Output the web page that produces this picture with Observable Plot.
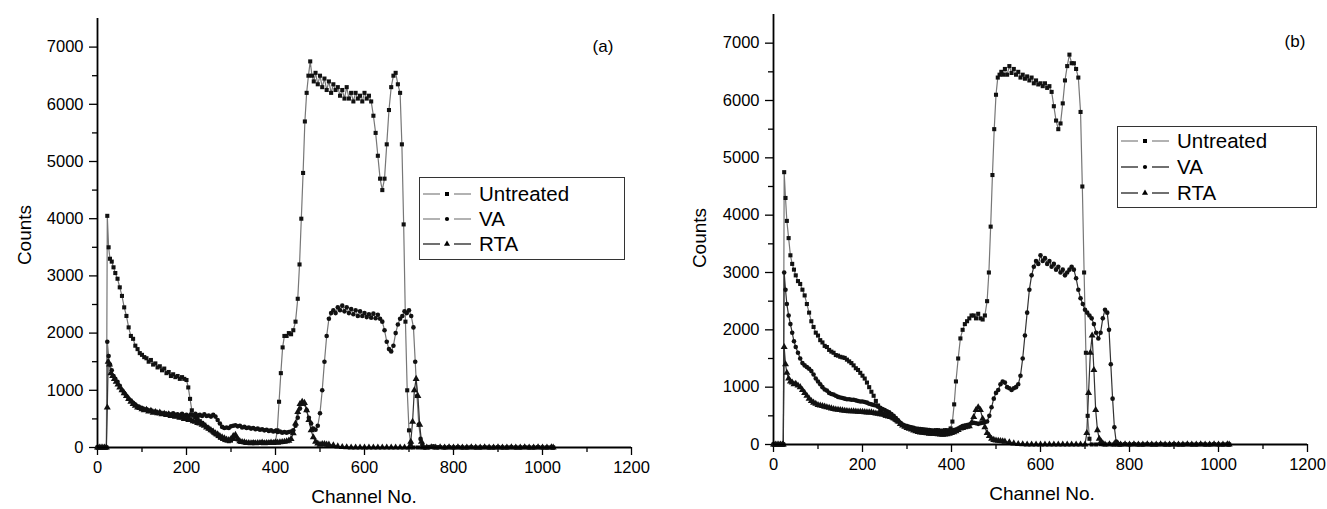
<!DOCTYPE html>
<html>
<head>
<meta charset="utf-8">
<script src="https://cdn.jsdelivr.net/npm/d3@7"></script>
<script src="https://cdn.jsdelivr.net/npm/@observablehq/plot@0.6"></script>
<style>
  html, body { margin: 0; padding: 0; background: #fff; }
  #wrap { position: relative; width: 1327px; height: 509px; overflow: hidden; font-family: "Liberation Sans", Arial, sans-serif; color: #000; }
  .panel { position: absolute; top: 0; }
  .lab { position: absolute; font-size: 19px; white-space: nowrap; }
  .ylab { transform: translate(-50%, -50%) rotate(-90deg); }
  .xlab { transform: translate(-50%, -50%); }
  .tag { position: absolute; font-size: 17px; transform: translate(-50%, -50%); }
  .legend { position: absolute; border: 1.3px solid #333; background: #fff; box-sizing: border-box; }
  .legend .row { position: absolute; left: 0; height: 24px; display: flex; align-items: center; font-size: 20.5px; }
  .legend svg { display: block; }
</style>
</head>
<body>
<div id="wrap"></div>
<script>
// ---------------- data (channel, counts) ----------------
const xTicks = [0, 200, 400, 600, 800, 1000, 1200];
const xMinor = [100, 300, 500, 700, 900, 1100];
const yTicks = [0, 1000, 2000, 3000, 4000, 5000, 6000, 7000];
const yMinor = [500, 1500, 2500, 3500, 4500, 5500, 6500];
const seriesNames = ["Untreated", "VA", "RTA"];

const tail = [[780,0],[790,5],[800,0],[810,5],[820,0],[830,0],[840,5],[850,0],[860,0],[870,5],[880,0],[890,0],[900,5],[910,0],[920,0],[930,5],[940,0],[950,0],[960,5],[970,0],[980,0],[990,5],[1000,0],[1010,0],[1020,5],[1024,0]];
const head = [[0,0],[4,0],[8,0],[12,0],[16,0],[20,0]];

const untreatedA = [[22,4050],[25,3500],[28,3300],[32,3250],[36,3150],[40,3050],[45,2950],[50,2800],[55,2650],[60,2450],[65,2300],[70,2100],[75,1950],[80,1900],[85,1780],[90,1720],[95,1650],[100,1620],[105,1580],[110,1560],[115,1500],[120,1530],[125,1450],[130,1470],[135,1400],[140,1420],[145,1350],[150,1380],[155,1300],[160,1320],[165,1250],[170,1280],[175,1230],[180,1250],[185,1200],[190,1230],[195,1200],[200,1180],[204,1050],[208,850],[212,650],[216,560],[220,530],[225,500],[230,460],[235,430],[240,400],[245,360],[250,330],[255,300],[260,260],[265,230],[270,200],[275,170],[280,150],[285,130],[290,120],[295,110],[300,120],[305,150],[310,190],[315,140],[320,100],[330,90],[340,80],[350,90],[360,80],[370,90],[380,85],[390,90],[400,100],[404,300],[408,800],[412,1300],[416,1750],[420,1950],[425,1950],[430,2000],[435,1980],[440,2050],[445,2200],[450,2600],[454,3200],[458,4000],[462,4800],[466,5700],[470,6200],[474,6500],[478,6750],[482,6500],[486,6400],[490,6550],[495,6350],[500,6500],[505,6300],[510,6450],[515,6250],[520,6400],[525,6200],[530,6350],[535,6250],[540,6300],[545,6150],[550,6250],[555,6100],[560,6300],[565,6100],[570,6200],[575,6050],[580,6200],[585,6100],[590,6150],[595,6050],[600,6200],[605,6100],[610,6150],[615,6050],[620,5800],[625,5500],[630,5100],[635,4700],[640,4500],[645,4700],[650,5300],[655,5900],[660,6300],[665,6500],[670,6550],[675,6350],[680,6200],[684,5300],[688,3900],[692,2200],[696,1000],[700,300],[704,50],[710,0],[720,0],[730,5],[740,0],[750,10],[760,0],[770,5]];
const vaA = [[22,1850],[25,1600],[28,1450],[32,1350],[36,1250],[40,1200],[45,1150],[50,1080],[55,1000],[60,950],[65,900],[70,850],[75,820],[80,780],[85,750],[90,720],[95,700],[100,690],[105,660],[110,670],[115,640],[120,650],[125,620],[130,630],[135,600],[140,610],[145,590],[150,600],[155,580],[160,590],[165,570],[170,600],[175,570],[180,580],[185,560],[190,590],[195,560],[200,570],[205,550],[210,580],[215,560],[220,590],[225,560],[230,570],[235,550],[240,580],[245,550],[250,560],[255,540],[260,570],[265,540],[270,480],[275,420],[280,360],[285,340],[290,350],[295,340],[300,370],[305,380],[310,390],[315,370],[320,380],[325,350],[330,360],[335,340],[340,350],[345,330],[350,340],[355,320],[360,330],[365,310],[370,320],[375,300],[380,310],[385,290],[390,300],[395,280],[400,290],[405,270],[410,280],[415,260],[420,270],[425,260],[430,270],[435,280],[440,300],[445,380],[450,520],[455,680],[460,780],[465,760],[470,650],[475,520],[480,420],[485,330],[490,310],[495,380],[500,600],[505,1000],[510,1500],[515,1950],[520,2250],[525,2350],[530,2400],[535,2350],[540,2450],[545,2400],[550,2480],[555,2380],[560,2450],[565,2350],[570,2420],[575,2330],[580,2400],[585,2300],[590,2380],[595,2300],[600,2350],[605,2280],[610,2330],[615,2270],[620,2340],[625,2260],[630,2320],[635,2250],[640,2200],[645,2050],[650,1850],[655,1720],[660,1680],[665,1780],[670,2000],[675,2150],[680,2250],[685,2300],[690,2380],[695,2350],[700,2400],[705,2300],[710,2100],[714,1500],[718,900],[722,400],[726,150],[730,50],[735,0],[745,10],[755,20],[765,5]];
const rtaA = [[22,700],[24,1500],[27,1450],[30,1300],[34,1250],[38,1200],[42,1150],[46,1100],[50,1050],[55,1000],[60,950],[65,900],[70,850],[75,800],[80,760],[85,730],[90,700],[95,690],[100,670],[105,650],[110,660],[115,630],[120,640],[125,610],[130,620],[135,600],[140,610],[145,580],[150,590],[155,570],[160,580],[165,550],[170,560],[175,540],[180,545],[185,520],[190,525],[195,500],[200,500],[205,480],[210,480],[215,460],[220,450],[225,430],[230,420],[235,400],[240,380],[245,350],[250,330],[255,300],[260,280],[265,250],[270,230],[275,200],[280,180],[285,160],[290,140],[295,130],[300,150],[305,200],[310,220],[315,150],[320,110],[325,95],[330,90],[335,80],[340,80],[345,75],[350,80],[355,75],[360,80],[365,80],[370,85],[375,75],[380,80],[385,80],[390,85],[395,80],[400,90],[405,85],[410,90],[415,95],[420,100],[425,110],[430,120],[435,150],[440,250],[445,420],[450,620],[455,760],[460,800],[465,780],[470,650],[475,480],[480,300],[485,180],[490,100],[495,70],[500,50],[505,60],[510,60],[515,50],[520,50],[530,40],[540,20],[550,10],[560,5],[570,0],[580,0],[590,0],[600,0],[610,0],[620,0],[630,0],[640,0],[650,0],[660,0],[670,0],[680,0],[690,0],[700,0],[704,100],[708,450],[712,1000],[716,1200],[720,900],[724,400],[728,100],[732,0],[740,0],[750,5],[760,0],[770,5]];

const untreatedB = [[22,0],[24,4750],[27,4300],[30,3900],[34,3600],[38,3300],[42,3150],[46,3050],[50,2950],[55,2850],[60,2800],[65,2700],[70,2600],[75,2450],[80,2300],[85,2150],[90,2050],[95,1950],[100,1900],[105,1820],[110,1780],[115,1720],[120,1700],[125,1650],[130,1620],[135,1600],[140,1560],[145,1550],[150,1530],[155,1520],[160,1510],[165,1480],[170,1450],[175,1420],[180,1380],[185,1330],[190,1300],[195,1250],[200,1200],[205,1150],[210,1080],[215,1000],[220,920],[225,850],[230,760],[235,680],[240,600],[245,530],[250,500],[255,490],[260,480],[265,470],[270,450],[275,420],[280,400],[285,370],[290,340],[295,320],[300,300],[305,290],[310,280],[315,270],[320,260],[325,250],[330,250],[335,240],[340,240],[345,250],[350,250],[355,240],[360,240],[365,250],[370,250],[375,240],[380,240],[385,250],[390,250],[398,280],[402,400],[406,700],[410,1100],[415,1500],[420,1850],[425,2000],[430,2100],[435,2150],[440,2200],[445,2250],[450,2250],[455,2200],[460,2280],[465,2200],[470,2180],[475,2250],[480,2500],[484,3000],[488,3800],[492,4700],[496,5500],[500,6100],[504,6400],[508,6450],[512,6500],[516,6450],[520,6550],[525,6450],[530,6600],[535,6480],[540,6550],[545,6450],[550,6500],[555,6400],[560,6450],[565,6380],[570,6420],[575,6350],[580,6400],[585,6300],[590,6350],[595,6280],[600,6300],[605,6250],[610,6300],[615,6220],[620,6250],[625,6150],[630,5900],[635,5650],[640,5500],[645,5600],[650,5950],[655,6350],[660,6600],[665,6800],[670,6650],[675,6650],[680,6550],[685,6400],[690,5800],[694,4500],[698,3000],[702,1600],[706,500],[710,100],[715,0],[725,0],[735,5],[745,0],[755,5],[765,0],[775,5]];
const vaB = [[22,0],[24,3000],[27,2700],[30,2450],[34,2250],[38,2100],[42,1950],[46,1800],[50,1700],[55,1600],[60,1500],[65,1420],[70,1380],[75,1350],[80,1320],[85,1280],[90,1220],[95,1150],[100,1100],[105,1050],[110,1000],[115,960],[120,940],[125,900],[130,880],[135,870],[140,850],[145,830],[150,820],[155,810],[160,800],[165,790],[170,790],[175,780],[180,780],[185,770],[190,760],[195,750],[200,750],[205,740],[210,730],[215,710],[220,700],[225,690],[230,680],[235,660],[240,640],[245,620],[250,600],[255,580],[260,560],[265,530],[270,500],[275,460],[280,420],[285,380],[290,350],[295,330],[300,320],[305,310],[310,300],[315,290],[320,280],[325,275],[330,270],[335,265],[340,260],[345,255],[350,250],[355,245],[360,240],[365,235],[370,230],[375,225],[380,220],[385,225],[390,230],[395,235],[400,240],[405,250],[410,260],[415,280],[420,300],[425,320],[430,330],[435,340],[440,350],[445,370],[450,380],[455,370],[460,360],[465,370],[470,380],[475,390],[480,400],[485,500],[490,650],[495,800],[500,900],[505,950],[510,1050],[515,1100],[520,1080],[525,1000],[530,980],[535,950],[540,980],[545,1000],[550,1050],[555,1200],[560,1500],[565,1900],[570,2300],[575,2700],[580,2950],[585,3100],[590,3200],[595,3150],[600,3300],[605,3200],[610,3250],[615,3150],[620,3200],[625,3100],[630,3150],[635,3050],[640,3100],[645,3000],[650,3050],[655,2950],[660,3000],[665,3050],[670,3100],[675,3050],[680,2900],[685,2700],[690,2550],[695,2450],[700,2350],[705,2300],[710,2250],[715,2200],[720,2100],[725,1950],[730,1850],[735,1950],[740,2200],[745,2350],[750,2300],[754,2000],[758,1400],[762,800],[766,300],[770,50],[775,0]];
const rtaB = [[22,0],[24,1700],[27,1400],[30,1250],[34,1150],[38,1100],[42,1080],[46,1050],[50,1060],[55,1030],[60,1000],[65,950],[70,900],[75,850],[80,800],[85,760],[90,730],[95,710],[100,690],[105,680],[110,670],[115,660],[120,650],[125,640],[130,630],[135,620],[140,610],[145,605],[150,600],[155,595],[160,590],[165,585],[170,580],[175,580],[180,580],[185,575],[190,570],[195,570],[200,570],[205,565],[210,560],[215,560],[220,560],[225,550],[230,540],[235,535],[240,530],[245,525],[250,520],[255,510],[260,500],[265,480],[270,460],[275,430],[280,400],[285,360],[290,330],[295,310],[300,290],[305,275],[310,260],[315,245],[320,230],[325,220],[330,210],[335,205],[340,200],[345,195],[350,190],[355,190],[360,190],[365,185],[370,180],[375,175],[380,170],[385,175],[390,180],[395,190],[400,200],[405,215],[410,230],[415,255],[420,280],[425,290],[430,300],[435,310],[440,320],[445,380],[450,480],[455,600],[460,650],[465,600],[470,450],[475,300],[480,200],[485,150],[490,100],[495,80],[500,70],[505,65],[510,60],[515,55],[520,50],[530,40],[540,20],[550,10],[560,5],[570,0],[580,0],[590,0],[600,0],[610,0],[620,0],[630,0],[640,0],[650,0],[660,0],[670,0],[680,0],[690,0],[700,0],[704,200],[708,900],[712,1600],[716,1900],[720,1300],[724,600],[728,250],[732,100],[736,50],[740,20],[745,0],[755,5],[765,0],[775,5]];

// ---------------- drawing ----------------
const symbols = {Untreated: "square", VA: "circle", RTA: "triangle"};
const radii = {Untreated: 2.3, VA: 2.3, RTA: 2.6};
const fmt = d => String(d);

function makeRows(name, pts) {
  return head.concat(pts, tail).map(([x, y]) => ({series: name, x, y}));
}

function panel({series, lineColors, width, ml, mr, mt, mb}) {
  const marks = [
    Plot.axisY({ticks: yTicks, tickFormat: fmt, tickSize: 8, tickPadding: 6, fontSize: 16.5, label: null, strokeWidth: 1.3}),
    Plot.axisY({ticks: yMinor, tickSize: 5, text: null, label: null, strokeWidth: 1.3}),
    Plot.axisX({ticks: xTicks, tickFormat: fmt, tickSize: 8, tickPadding: 6, fontSize: 16.5, label: null, strokeWidth: 1.3}),
    Plot.axisX({ticks: xMinor, tickSize: 5, text: null, label: null, strokeWidth: 1.3})
  ];
  series.forEach(([name, pts], i) => {
    const rows = makeRows(name, pts);
    marks.push(Plot.line(rows, {x: "x", y: "y", stroke: lineColors[i], strokeWidth: 1.2}));
  });
  series.forEach(([name, pts]) => {
    const rows = makeRows(name, pts);
    marks.push(Plot.dot(rows, {x: "x", y: "y", symbol: () => symbols[name], r: radii[name], fill: "#111", stroke: "none"}));
  });
  marks.push(Plot.ruleX([0], {stroke: "#000", strokeWidth: 1.8}));
  marks.push(Plot.ruleY([0], {stroke: "#000", strokeWidth: 1.8}));
  return Plot.plot({
    width, height: 509,
    marginLeft: ml, marginRight: mr, marginTop: mt, marginBottom: mb,
    x: {domain: [0, 1200]},
    y: {domain: [0, 7500]},
    symbol: {type: "identity"},
    style: {fontFamily: '"Liberation Sans", Arial, sans-serif', fontSize: "16.5px", color: "#000", background: "transparent", overflow: "visible"},
    marks
  });
}

const wrap = document.getElementById("wrap");

function addPanel(left, opts, labels) {
  const div = document.createElement("div");
  div.className = "panel";
  div.style.left = left + "px";
  div.appendChild(panel(opts));
  wrap.appendChild(div);
  const yl = document.createElement("div");
  yl.className = "lab ylab"; yl.textContent = "Counts";
  yl.style.left = labels.ylx + "px"; yl.style.top = labels.yly + "px";
  wrap.appendChild(yl);
  const xl = document.createElement("div");
  xl.className = "lab xlab"; xl.textContent = "Channel No.";
  xl.style.left = labels.xlx + "px"; xl.style.top = labels.xly + "px";
  wrap.appendChild(xl);
  const tg = document.createElement("div");
  tg.className = "tag"; tg.textContent = labels.tag;
  tg.style.left = labels.tx + "px"; tg.style.top = labels.ty + "px";
  wrap.appendChild(tg);

  const lg = document.createElement("div");
  lg.className = "legend";
  Object.assign(lg.style, {left: labels.lgx + "px", top: labels.lgy + "px", width: labels.lgw + "px", height: labels.lgh + "px"});
  seriesNames.forEach((name, i) => {
    const row = document.createElement("div");
    row.className = "row";
    row.style.top = (labels.rowTop + i * labels.rowGap) + "px";
    const col = labels.legendColors[i];
    const sym = d3.symbol(d3[{Untreated: "symbolSquare", VA: "symbolCircle", RTA: "symbolTriangle"}[name]], name === "Untreated" ? 16 : name === "VA" ? 14 : 16)();
    row.innerHTML = `<svg width="56" height="24" style="margin-left:3px"><line x1="0" x2="17" y1="12" y2="12" stroke="${col}" stroke-width="1.3"/><line x1="31" x2="48" y1="12" y2="12" stroke="${col}" stroke-width="1.3"/><path d="${sym}" transform="translate(24,12)" fill="#000"/></svg><span style="margin-left:0px">${name}</span>`;
    lg.appendChild(row);
  });
  wrap.appendChild(lg);
}

addPanel(0, {
  series: [["Untreated", untreatedA], ["VA", vaA], ["RTA", rtaA]],
  lineColors: ["#777", "#777", "#333"],
  width: 660, ml: 97, mr: 29, mt: 18, mb: 62
}, {ylx: 25, yly: 235, xlx: 364, xly: 497, tag: "(a)", tx: 603, ty: 47,
    lgx: 419, lgy: 177, lgw: 206, lgh: 83, rowTop: 4, rowGap: 25, legendColors: ["#888", "#888", "#222"]});

addPanel(660, {
  series: [["Untreated", untreatedB], ["VA", vaB], ["RTA", rtaB]],
  lineColors: ["#777", "#333", "#333"],
  width: 667, ml: 113, mr: 20, mt: 14, mb: 65
}, {ylx: 700, yly: 238, xlx: 1042, xly: 494, tag: "(b)", tx: 1295, ty: 42,
    lgx: 1117, lgy: 126, lgw: 200, lgh: 82, rowTop: 2, rowGap: 26, legendColors: ["#888", "#222", "#222"]});
</script>
</body>
</html>
